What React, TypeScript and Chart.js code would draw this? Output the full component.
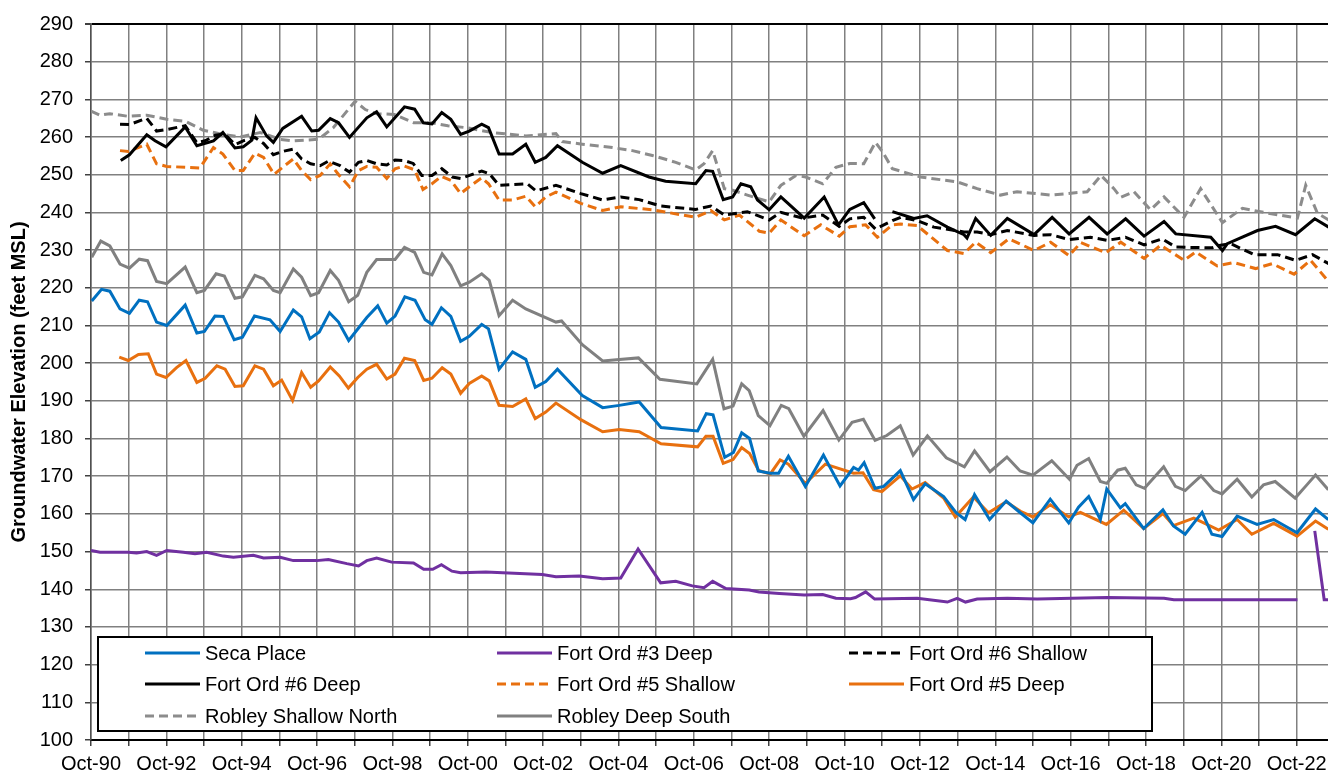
import React, { useEffect, useRef } from 'react';
import { Chart, registerables } from 'chart.js';

Chart.register(...registerables);

const FONT = '"Liberation Sans", Arial, Helvetica, sans-serif';

type P = [number, number | null];

// x = decimal year, y = groundwater elevation (feet MSL)
const secaPlace: P[] = [
  [1990.77, 216.5], [1991.03, 219.6], [1991.25, 219.1], [1991.52, 214.4], [1991.77, 213.2], [1992.03, 216.7], [1992.25, 216.3],
  [1992.49, 210.9], [1992.76, 210.0], [1993.25, 215.4], [1993.56, 208.0], [1993.76, 208.4], [1994.04, 212.5], [1994.26, 212.4],
  [1994.55, 206.2], [1994.77, 206.9], [1995.09, 212.5], [1995.5, 211.5], [1995.77, 208.4], [1996.12, 214.1], [1996.34, 212.3],
  [1996.56, 206.5], [1996.81, 208.3], [1997.08, 213.4], [1997.32, 210.9], [1997.59, 206.0], [1998.07, 212.1], [1998.36, 215.2],
  [1998.6, 210.6], [1998.82, 212.5], [1999.08, 217.6], [1999.35, 216.7], [1999.62, 211.5], [1999.8, 210.3], [2000.05, 214.7],
  [2000.3, 212.4], [2000.56, 205.8], [2000.79, 207.1], [2001.12, 210.3], [2001.3, 209.1], [2001.58, 198.4], [2001.94, 203.0],
  [2002.29, 201.0], [2002.54, 193.6], [2002.82, 195.1], [2003.13, 198.4], [2003.79, 191.4], [2004.33, 188.2], [2004.77, 188.8],
  [2005.3, 189.7], [2005.88, 182.9], [2006.85, 182.0], [2007.08, 186.6], [2007.26, 186.3], [2007.57, 175.0], [2007.8, 176.3],
  [2008.02, 181.5], [2008.23, 180.0], [2008.46, 171.4], [2008.77, 170.8], [2009.0, 170.8], [2009.26, 175.3], [2009.71, 167.3],
  [2010.19, 175.6], [2010.63, 167.4], [2010.99, 172.3], [2011.12, 171.6], [2011.27, 173.6], [2011.56, 166.8], [2011.79, 167.3],
  [2012.23, 171.5], [2012.58, 163.8], [2012.89, 168.0], [2013.38, 164.6], [2013.71, 160.3], [2013.95, 158.5], [2014.2, 165.1],
  [2014.6, 158.5], [2015.04, 163.4], [2015.39, 160.5], [2015.75, 157.6], [2016.21, 163.9], [2016.7, 157.6], [2016.96, 161.8],
  [2017.23, 164.6], [2017.54, 158.5], [2017.71, 166.6], [2018.07, 161.6], [2018.2, 162.7], [2018.69, 156.1], [2019.2, 161.1],
  [2019.48, 156.8], [2019.79, 154.6], [2020.24, 160.4], [2020.5, 154.6], [2020.77, 154.0], [2021.17, 159.4], [2021.7, 157.2],
  [2022.14, 158.5], [2022.76, 155.0], [2023.25, 161.3], [2023.59, 158.5],
];

const fortOrd3Deep: P[] = [
  [1990.75, 150.3], [1990.99, 149.8], [1991.74, 149.8], [1991.96, 149.6], [1992.23, 150.0], [1992.49, 149.0], [1992.76, 150.3],
  [1993.2, 149.8], [1993.51, 149.4], [1993.82, 149.8], [1994.26, 148.8], [1994.53, 148.5], [1995.06, 149.0], [1995.33, 148.3],
  [1995.77, 148.5], [1996.12, 147.6], [1996.74, 147.6], [1997.05, 147.9], [1997.54, 146.8], [1997.85, 146.2], [1998.07, 147.6],
  [1998.33, 148.3], [1998.73, 147.2], [1999.31, 147.0], [1999.58, 145.3], [1999.82, 145.3], [2000.05, 146.5], [2000.33, 144.8],
  [2000.56, 144.4], [2001.23, 144.6], [2002.73, 143.9], [2003.09, 143.3], [2003.71, 143.5], [2004.33, 142.8], [2004.81, 143.0],
  [2005.27, 150.7], [2005.87, 141.7], [2006.27, 142.1], [2006.71, 140.9], [2007.02, 140.4], [2007.25, 142.1], [2007.6, 140.2],
  [2008.22, 139.8], [2008.48, 139.3], [2009.02, 138.9], [2009.68, 138.5], [2010.17, 138.6], [2010.52, 137.6], [2010.91, 137.5],
  [2011.04, 137.8], [2011.31, 139.3], [2011.55, 137.4], [2012.68, 137.6], [2013.48, 136.6], [2013.74, 137.6], [2013.96, 136.6],
  [2014.27, 137.4], [2015.07, 137.6], [2015.86, 137.4], [2017.72, 137.8], [2019.23, 137.6], [2019.49, 137.2], [2022.77, 137.2],
  [2023.0, null], [2023.23, 155.5], [2023.48, 137.2], [2023.6, 137.2],
];

const fortOrd6Shallow: P[] = [
  [1991.52, 263.4], [1991.77, 263.3], [1992.23, 265.0], [1992.49, 261.6], [1992.76, 262.0], [1993.25, 263.0], [1993.56, 258.5],
  [1993.78, 259.0], [1994.05, 260.5], [1994.3, 260.8], [1994.57, 258.0], [1994.79, 259.0], [1995.1, 259.9], [1995.33, 258.3],
  [1995.59, 255.3], [1995.84, 256.2], [1996.12, 256.8], [1996.34, 254.2], [1996.58, 252.9], [1996.83, 252.4], [1997.05, 253.6],
  [1997.36, 252.4], [1997.61, 250.7], [1997.85, 253.3], [1998.07, 253.8], [1998.33, 252.9], [1998.6, 252.6], [1998.82, 253.9],
  [1999.08, 253.7], [1999.3, 253.0], [1999.53, 249.8], [1999.8, 249.8], [2000.06, 251.6], [2000.34, 249.4], [2000.56, 249.0],
  [2001.12, 251.0], [2001.32, 250.3], [2001.58, 247.2], [2002.33, 247.6], [2002.56, 245.7], [2003.09, 247.2], [2003.75, 245.0],
  [2004.33, 243.3], [2004.81, 244.1], [2005.3, 243.4], [2005.87, 241.7], [2006.8, 240.8], [2007.2, 241.7], [2007.56, 239.3],
  [2008.17, 240.2], [2008.75, 238.0], [2009.06, 240.0], [2009.64, 238.5], [2010.17, 239.3], [2010.61, 236.3], [2010.89, 238.3],
  [2011.26, 238.7], [2011.57, 235.6], [2012.02, 237.8], [2012.24, 238.7], [2012.68, 237.8], [2013.12, 236.1], [2013.92, 234.8],
  [2014.27, 234.8], [2014.63, 234.1], [2015.07, 235.2], [2015.78, 233.9], [2016.22, 234.1], [2016.71, 232.8], [2017.28, 233.4],
  [2017.72, 232.6], [2018.21, 233.4], [2018.7, 231.4], [2019.18, 233.0], [2019.54, 230.8], [2020.51, 230.6], [2020.73, 231.3],
  [2021.0, 231.7], [2021.62, 228.8], [2022.24, 228.8], [2022.72, 227.3], [2023.17, 228.8], [2023.6, 226.4],
];

const fortOrd6Deep: P[] = [
  [1991.54, 253.8], [1991.77, 255.3], [1992.23, 260.6], [1992.45, 259.0], [1992.74, 257.4], [1993.25, 262.7], [1993.56, 257.7],
  [1994.0, 259.0], [1994.25, 261.2], [1994.57, 257.1], [1994.79, 257.4], [1995.02, 259.2], [1995.13, 265.1], [1995.41, 260.3],
  [1995.59, 258.6], [1995.84, 262.3], [1996.34, 265.5], [1996.61, 261.6], [1996.79, 261.8], [1997.1, 264.9], [1997.32, 263.8],
  [1997.61, 259.9], [1998.07, 265.1], [1998.33, 266.7], [1998.6, 262.7], [1999.07, 268.0], [1999.34, 267.4], [1999.57, 263.8],
  [1999.8, 263.5], [2000.06, 266.5], [2000.3, 264.7], [2000.56, 260.7], [2000.79, 261.6], [2001.12, 263.4], [2001.3, 262.5],
  [2001.58, 255.5], [2001.94, 255.5], [2002.29, 258.1], [2002.54, 253.3], [2002.82, 254.6], [2003.13, 257.7], [2003.79, 253.3],
  [2004.33, 250.4], [2004.81, 252.4], [2005.56, 249.4], [2006.0, 248.3], [2006.8, 247.6], [2007.07, 251.1], [2007.25, 250.9],
  [2007.53, 243.4], [2007.78, 244.1], [2008.0, 247.6], [2008.26, 246.8], [2008.44, 243.3], [2008.75, 240.7], [2009.06, 244.1],
  [2009.68, 238.5], [2010.21, 244.1], [2010.59, 236.7], [2010.89, 240.8], [2011.26, 242.6], [2011.55, 238.3], [2011.8, null],
  [2012.02, 240.2], [2012.59, 238.4], [2012.94, 239.1], [2013.48, 236.1], [2013.92, 234.1], [2014.0, 233.2], [2014.23, 238.4],
  [2014.63, 233.9], [2015.07, 238.4], [2015.78, 234.1], [2016.26, 238.7], [2016.71, 234.3], [2017.24, 238.7], [2017.72, 234.3],
  [2018.21, 238.3], [2018.7, 233.7], [2019.23, 237.6], [2019.54, 234.3], [2020.47, 233.4], [2020.78, 229.9], [2020.91, 231.7],
  [2021.71, 235.2], [2022.19, 236.3], [2022.72, 234.1], [2023.23, 238.3], [2023.6, 236.1],
];

const fortOrd5Shallow: P[] = [
  [1991.52, 256.4], [1991.74, 256.2], [1992.23, 258.1], [1992.49, 252.9], [1992.76, 252.2], [1993.64, 251.8], [1994.0, 257.2],
  [1994.25, 255.5], [1994.57, 251.1], [1994.79, 251.1], [1995.1, 255.7], [1995.33, 254.6], [1995.61, 250.1], [1995.84, 252.0],
  [1996.12, 254.2], [1996.34, 251.1], [1996.58, 248.7], [1996.83, 249.8], [1997.1, 252.9], [1997.34, 249.8], [1997.61, 246.8],
  [1997.85, 251.1], [1998.07, 252.2], [1998.33, 252.0], [1998.6, 249.0], [1998.82, 251.6], [1999.07, 252.3], [1999.34, 251.3],
  [1999.56, 246.1], [1999.8, 247.6], [2000.05, 249.6], [2000.3, 248.5], [2000.56, 245.0], [2000.79, 246.8], [2001.12, 249.2],
  [2001.3, 247.6], [2001.58, 243.3], [2001.94, 243.3], [2002.29, 244.3], [2002.54, 241.5], [2002.82, 244.1], [2003.09, 245.4],
  [2003.75, 242.4], [2004.33, 240.5], [2004.81, 241.5], [2005.65, 240.7], [2006.8, 238.7], [2007.2, 240.5], [2007.56, 238.0],
  [2007.96, 239.3], [2008.49, 235.0], [2008.75, 234.5], [2009.06, 238.0], [2009.68, 233.8], [2010.12, 236.7], [2010.61, 233.7],
  [2010.89, 236.2], [2011.31, 236.7], [2011.62, 233.4], [2012.02, 236.7], [2012.24, 236.9], [2012.68, 236.5], [2013.48, 229.9],
  [2013.92, 229.1], [2014.23, 232.1], [2014.63, 229.3], [2015.11, 233.0], [2015.78, 229.9], [2016.22, 232.1], [2016.71, 228.5],
  [2017.02, 232.0], [2017.68, 229.3], [2018.08, 232.1], [2018.7, 227.8], [2019.14, 231.3], [2019.76, 227.3], [2020.07, 229.5],
  [2020.64, 225.8], [2021.08, 226.7], [2021.66, 225.1], [2022.1, 226.4], [2022.68, 223.6], [2023.12, 227.3], [2023.6, 221.6],
];

const fortOrd5Deep: P[] = [
  [1991.5, 201.6], [1991.74, 200.7], [1992.01, 202.3], [1992.27, 202.5], [1992.49, 197.1], [1992.74, 196.2], [1993.02, 198.8],
  [1993.27, 200.7], [1993.56, 194.9], [1993.78, 196.0], [1994.09, 199.3], [1994.31, 198.4], [1994.57, 193.8], [1994.79, 194.0],
  [1995.1, 199.3], [1995.33, 198.4], [1995.59, 194.0], [1995.81, 195.5], [1996.1, 190.1], [1996.34, 197.5], [1996.58, 193.6],
  [1996.79, 195.3], [1997.1, 199.0], [1997.34, 196.6], [1997.58, 193.4], [1997.83, 196.2], [1998.07, 198.4], [1998.33, 199.7],
  [1998.6, 195.8], [1998.82, 197.1], [1999.07, 201.3], [1999.34, 200.7], [1999.58, 195.4], [1999.8, 196.0], [2000.07, 198.8],
  [2000.3, 197.1], [2000.56, 192.0], [2000.79, 194.6], [2001.12, 196.6], [2001.32, 195.3], [2001.58, 188.8], [2001.94, 188.5],
  [2002.29, 190.5], [2002.54, 185.3], [2002.82, 187.0], [2003.09, 189.4], [2003.75, 185.0], [2004.33, 181.8], [2004.77, 182.4],
  [2005.3, 181.8], [2005.88, 178.6], [2006.85, 177.8], [2007.07, 180.6], [2007.26, 180.6], [2007.53, 173.4], [2007.79, 174.4],
  [2008.02, 177.6], [2008.23, 176.0], [2008.47, 171.5], [2008.78, 170.6], [2009.04, 174.3], [2009.26, 173.2], [2009.71, 168.1],
  [2010.24, 173.2], [2010.99, 170.8], [2011.24, 170.9], [2011.52, 166.4], [2011.74, 165.9], [2012.23, 170.1], [2012.54, 166.6],
  [2012.89, 168.3], [2013.38, 164.2], [2013.69, 159.2], [2014.17, 164.5], [2014.57, 160.3], [2015.04, 163.2], [2015.42, 160.7],
  [2015.75, 159.2], [2016.21, 162.4], [2016.7, 159.2], [2017.01, 160.4], [2017.7, 157.2], [2018.16, 161.0], [2018.69, 156.1],
  [2019.2, 160.1], [2019.48, 156.9], [2020.02, 158.9], [2020.68, 155.7], [2021.17, 158.5], [2021.56, 154.6], [2022.14, 157.5],
  [2022.76, 154.1], [2023.25, 158.1], [2023.59, 155.9],
];

const robleyShallowNorth: P[] = [
  [1990.75, 266.9], [1990.99, 265.8], [1991.25, 266.2], [1991.74, 265.5], [1992.23, 265.8], [1992.76, 264.7], [1993.25, 264.2],
  [1993.73, 261.8], [1994.26, 260.7], [1994.71, 260.0], [1995.24, 261.2], [1995.77, 259.4], [1996.12, 259.0], [1996.79, 259.4],
  [1997.18, 262.5], [1997.76, 269.5], [1998.03, 267.3], [1998.33, 266.2], [1998.8, 266.0], [1999.31, 263.8], [1999.78, 263.8],
  [2000.22, 263.0], [2000.7, 262.5], [2001.4, 261.2], [2002.29, 260.3], [2003.09, 260.9], [2003.26, 258.8], [2003.79, 258.1],
  [2004.59, 257.2], [2005.12, 256.4], [2005.65, 255.1], [2006.27, 253.3], [2006.8, 251.3], [2007.02, 252.9], [2007.25, 256.4],
  [2007.56, 246.3], [2007.78, 245.9], [2008.17, 244.6], [2008.75, 242.8], [2009.06, 247.2], [2009.46, 249.8], [2009.72, 249.4],
  [2010.17, 247.6], [2010.52, 252.0], [2010.89, 253.0], [2011.26, 252.9], [2011.57, 258.6], [2011.75, 256.2], [2012.02, 251.6],
  [2012.46, 250.3], [2012.77, 249.4], [2013.74, 248.1], [2014.27, 246.3], [2014.89, 244.6], [2015.33, 245.5], [2016.22, 244.6],
  [2017.19, 245.5], [2017.56, 249.8], [2017.9, 246.3], [2018.08, 244.0], [2018.43, 245.5], [2018.87, 240.7], [2019.23, 244.1],
  [2019.76, 238.7], [2020.2, 246.3], [2020.78, 237.3], [2021.31, 241.1], [2021.88, 240.0], [2022.77, 238.5], [2022.99, 247.2],
  [2023.3, 239.8], [2023.6, 238.0],
];

const robleyDeepSouth: P[] = [
  [1990.77, 228.1], [1991.01, 232.4], [1991.25, 231.1], [1991.52, 226.3], [1991.77, 225.2], [1992.03, 227.6], [1992.25, 227.2],
  [1992.49, 221.7], [1992.76, 221.1], [1993.25, 225.5], [1993.56, 218.7], [1993.76, 219.3], [1994.07, 223.7], [1994.29, 223.1],
  [1994.57, 217.2], [1994.77, 217.6], [1995.1, 223.3], [1995.33, 222.4], [1995.59, 219.3], [1995.77, 218.7], [1996.12, 225.0],
  [1996.34, 222.8], [1996.58, 217.9], [1996.79, 218.7], [1997.1, 224.6], [1997.32, 222.0], [1997.59, 216.3], [1997.83, 218.0],
  [1998.07, 224.1], [1998.33, 227.5], [1998.82, 227.5], [1999.07, 230.7], [1999.34, 229.4], [1999.58, 224.1], [1999.8, 223.4],
  [2000.07, 229.0], [2000.3, 225.9], [2000.56, 220.5], [2000.79, 221.5], [2001.12, 223.7], [2001.32, 222.0], [2001.58, 212.6],
  [2001.94, 216.7], [2002.29, 214.4], [2003.09, 210.9], [2003.24, 211.2], [2003.79, 204.9], [2004.33, 200.6], [2004.77, 201.0],
  [2005.28, 201.4], [2005.85, 195.7], [2006.83, 194.5], [2007.25, 201.0], [2007.55, 187.9], [2007.79, 188.6], [2008.02, 194.5],
  [2008.22, 192.7], [2008.46, 186.1], [2008.77, 183.4], [2009.07, 188.8], [2009.27, 187.9], [2009.67, 180.6], [2010.18, 187.4],
  [2010.6, 179.6], [2010.95, 184.3], [2011.25, 185.1], [2011.56, 179.5], [2011.87, 180.8], [2012.23, 183.4], [2012.57, 175.6],
  [2012.95, 180.7], [2013.45, 174.9], [2013.93, 172.5], [2014.2, 176.7], [2014.61, 171.2], [2015.06, 175.1], [2015.41, 171.4],
  [2015.75, 170.3], [2016.25, 174.1], [2016.72, 169.2], [2016.92, 172.9], [2017.23, 174.7], [2017.54, 168.6], [2017.71, 168.1],
  [2018.0, 171.6], [2018.2, 172.1], [2018.49, 167.7], [2018.71, 166.8], [2019.22, 172.5], [2019.53, 167.3], [2019.79, 166.2],
  [2020.21, 170.1], [2020.55, 166.2], [2020.77, 165.3], [2021.17, 169.2], [2021.56, 164.5], [2021.87, 167.7], [2022.18, 168.6],
  [2022.71, 164.2], [2023.02, 167.7], [2023.25, 170.3], [2023.59, 166.4],
];

const seriesNames = [
  'Seca Place', 'Fort Ord #3 Deep', 'Fort Ord #6 Shallow',
  'Fort Ord #6 Deep', 'Fort Ord #5 Shallow', 'Fort Ord #5 Deep',
  'Robley Shallow North', 'Robley Deep South',
];
const seriesData = [secaPlace, fortOrd3Deep, fortOrd6Shallow, fortOrd6Deep, fortOrd5Shallow, fortOrd5Deep, robleyShallowNorth, robleyDeepSouth];
const seriesColors = ['#0070C0', '#7030A0', '#000000', '#000000', '#E8700F', '#E8700F', '#8C8C8C', '#808080'];
const seriesDashed = [false, false, true, false, true, false, true, false];

// x axis: one grid line each October, label every second year
const xFirstOct = 1990.75;
const xLastOct = 2023.75;
const xMax = 2024.59;
const xTickLabels = ['Oct-90', 'Oct-92', 'Oct-94', 'Oct-96', 'Oct-98', 'Oct-00', 'Oct-02', 'Oct-04', 'Oct-06',
  'Oct-08', 'Oct-10', 'Oct-12', 'Oct-14', 'Oct-16', 'Oct-18', 'Oct-20', 'Oct-22'];
const yMin = 100;
const yMax = 290;
const yStep = 10;
const yTitle = 'Groundwater Elevation (feet MSL)';

const DASH = [9, 5];

const boxLegend = {
  id: 'boxLegend',
  afterDraw(chart: any) {
    const ctx = chart.ctx as CanvasRenderingContext2D;
    const box = { left: 98, top: 637, width: 1054, height: 94 };
    const colX = [145, 497, 849];
    const rowY = [653, 684, 716];
    const sampleLen = 55;
    ctx.save();
    ctx.fillStyle = '#ffffff';
    ctx.fillRect(box.left, box.top, box.width, box.height);
    ctx.lineWidth = 2;
    ctx.strokeStyle = '#000000';
    ctx.setLineDash([]);
    ctx.strokeRect(box.left, box.top, box.width, box.height);
    ctx.font = `20px ${FONT}`;
    ctx.textBaseline = 'middle';
    ctx.textAlign = 'left';
    seriesNames.forEach((name, i) => {
      const c = i % 3;
      const r = Math.floor(i / 3);
      const x = colX[c];
      const y = rowY[r];
      ctx.beginPath();
      ctx.lineWidth = 3;
      ctx.strokeStyle = seriesColors[i];
      ctx.setLineDash(seriesDashed[i] ? DASH : []);
      ctx.moveTo(x, y);
      ctx.lineTo(x + sampleLen, y);
      ctx.stroke();
      ctx.setLineDash([]);
      ctx.fillStyle = '#000000';
      ctx.fillText(name, x + sampleLen + 5, y + 1);
    });
    ctx.restore();
  },
};

export default function App() {
  const ref = useRef<HTMLCanvasElement>(null);

  useEffect(() => {
    if (!ref.current) return;
    const datasets = seriesData.map((arr, i) => ({
      label: seriesNames[i],
      data: arr.map(([x, y]) => ({ x, y })),
      borderColor: seriesColors[i],
      backgroundColor: seriesColors[i],
      borderWidth: 3,
      borderDash: seriesDashed[i] ? DASH : [],
      pointRadius: 0,
      tension: 0,
      fill: false,
      spanGaps: false,
    }));

    const chart = new Chart(ref.current, {
      type: 'line',
      data: { datasets },
      options: {
        animation: false,
        responsive: false,
        devicePixelRatio: 1,
        layout: { padding: { top: 15, left: 0, right: 0, bottom: 0 } },
        plugins: { legend: { display: false }, tooltip: { enabled: false } },
        scales: {
          x: {
            type: 'linear',
            min: xFirstOct,
            max: xMax,
            afterBuildTicks: (scale: any) => {
              const t: any[] = [];
              for (let v = xFirstOct; v <= xLastOct + 1e-6; v += 1) t.push({ value: v });
              scale.ticks = t;
            },
            afterFit: (scale: any) => {
              scale.height = 36;
            },
            ticks: {
              autoSkip: false,
              maxRotation: 0,
              minRotation: 0,
              padding: 6,
              color: '#000000',
              font: { size: 20, family: FONT },
              callback: (value: any) => {
                const k = Math.round(Number(value) - xFirstOct);
                return k % 2 === 0 && xTickLabels[k / 2] ? xTickLabels[k / 2] : '';
              },
            },
            grid: { color: '#808080', lineWidth: 1.5, tickLength: 6, tickColor: '#404040' },
            border: { color: '#000000', width: 2 },
          },
          y: {
            type: 'linear',
            min: yMin,
            max: yMax,
            afterFit: (scale: any) => {
              scale.width = 91;
            },
            ticks: {
              stepSize: yStep,
              padding: 12,
              color: '#000000',
              font: { size: 20, family: FONT },
            },
            grid: {
              color: (c: any) => (c.tick && c.tick.value === yMax ? '#000000' : '#808080'),
              lineWidth: (c: any) => (c.tick && c.tick.value === yMax ? 2 : 1.5),
              tickLength: 6,
              tickColor: '#404040',
            },
            border: { color: '#505050', width: 1.5 },
            title: {
              display: true,
              text: yTitle,
              color: '#000000',
              font: { size: 20, weight: 'bold', family: FONT },
              padding: { top: 7, bottom: 0 },
            },
          },
        },
      },
      plugins: [boxLegend],
    } as any);

    return () => chart.destroy();
  }, []);

  return (
    <div
      style={{
        position: 'absolute',
        left: 0,
        top: 0,
        width: 1328,
        height: 776,
        overflow: 'hidden',
        background: '#ffffff',
      }}
    >
      <canvas ref={ref} width={1366} height={776} style={{ display: 'block' }} />
    </div>
  );
}
